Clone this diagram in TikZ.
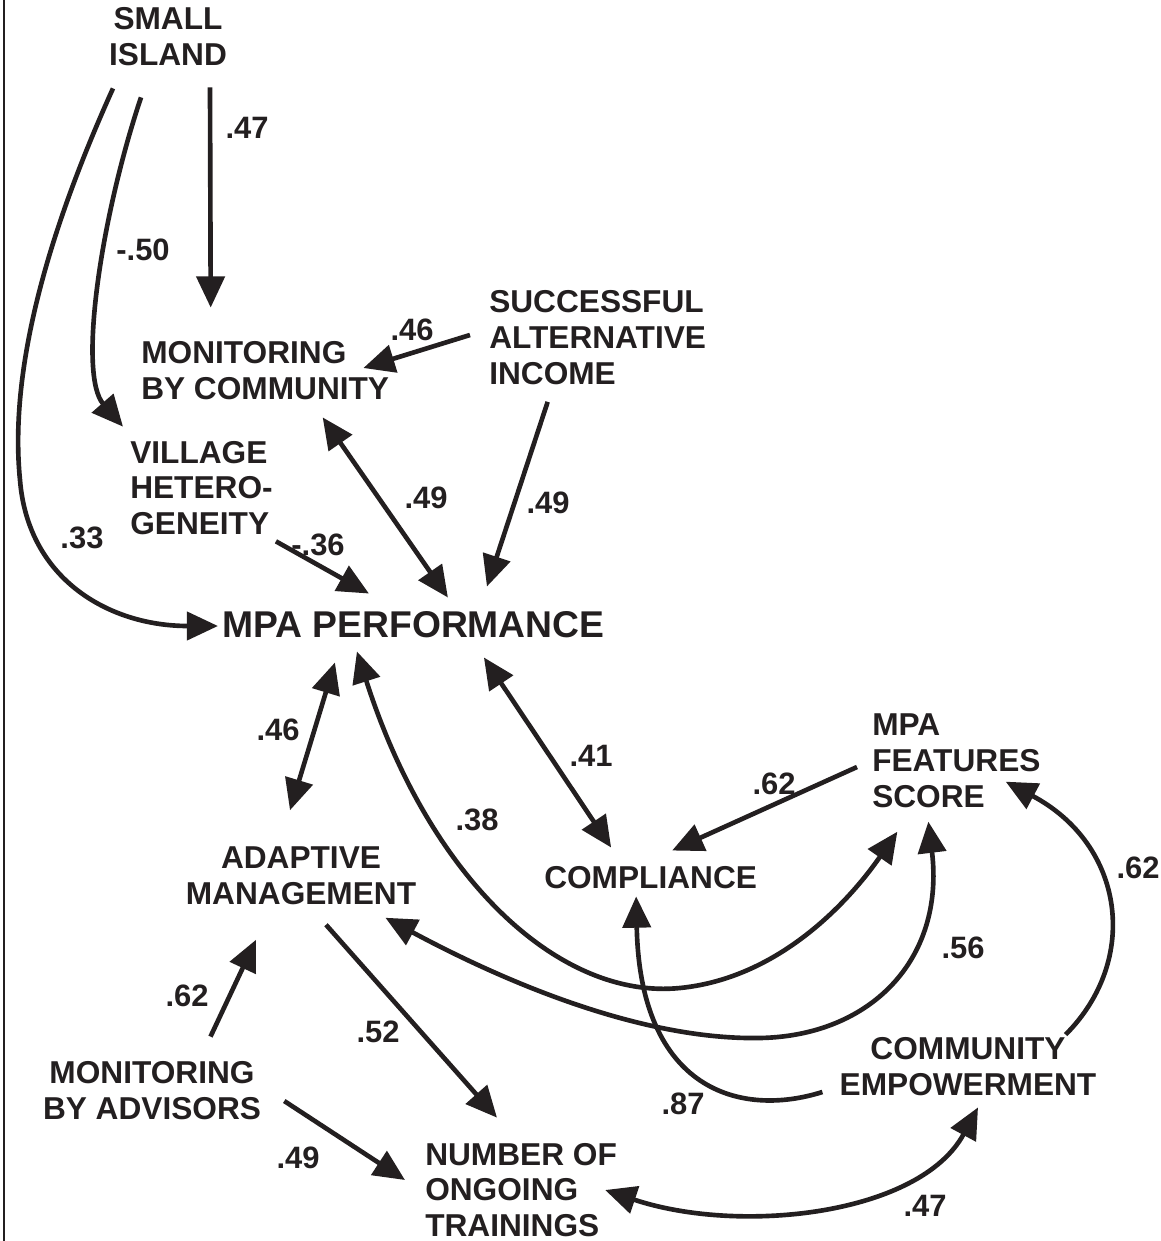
\documentclass[tikz,border=0pt]{standalone}
\usepackage{fontspec}
\setmainfont{Liberation Sans}
\usetikzlibrary{arrows.meta,calc}
\definecolor{ink}{RGB}{35,31,32}
\tikzset{
  var/.style={font=\bfseries\fontsize{22.5}{25.5}\selectfont, text=ink, inner sep=0pt},
  coef/.style={font=\bfseries\fontsize{22}{25}\selectfont, text=ink, inner sep=0pt},
  link/.style={draw=ink, line width=3.3pt, -{Triangle[length=0.78cm,width=0.7cm]}},
  twoway/.style={link, {Triangle[length=0.78cm,width=0.7cm]}-{Triangle[length=0.78cm,width=0.7cm]}}
}

\begin{document}
\begin{tikzpicture}[x=0.025cm, y=-0.025cm]
    \useasboundingbox (0,0) rectangle (1161,1241);
    \draw [ink, line width=1.5pt] (4,0) -- (4,1241);

    % Variables
    \node[var, align=center] (island) at (168,37) {SMALL\\ISLAND};
    \node[var, align=left, anchor=west] (moncom) at (141,371) {MONITORING\\BY COMMUNITY};
    \node[var, align=left, anchor=west] (vhet) at (130,488) {VILLAGE\\HETERO-\\GENEITY};
    \node[var, align=left, anchor=west] (altinc) at (489,337.5) {SUCCESSFUL\\ALTERNATIVE\\INCOME};
    \node[var, font=\bfseries\fontsize{26.5}{30}\selectfont, anchor=west] (perf) at (222,625) {MPA PERFORMANCE};
    \node[var, align=left, anchor=west] (feat) at (872,760.5) {MPA\\FEATURES\\SCORE};
    \node[var, anchor=west] (compl) at (544,878) {COMPLIANCE};
    \node[var, align=center] (adapt) at (301,875.5) {ADAPTIVE\\MANAGEMENT};
    \node[var, align=center] (monadv) at (152,1091) {MONITORING\\BY ADVISORS};
    \node[var, align=left, anchor=west] (train) at (425,1190) {NUMBER OF\\ONGOING\\TRAININGS};
    \node[var, align=center] (empow) at (968,1067) {COMMUNITY\\EMPOWERMENT};

    % Straight paths
    \draw[link] ($(island.south)+(42,21)$) -- ($(moncom.north)+(-54.5,-34)$);
    \draw[link] ($(altinc.west)+(-19,-2.5)$) -- ($(moncom.east)+(-26,-3)$);
    \draw[link] ($(altinc.south)+(-50,17)$) -- ($(perf.north)+(73.5,-25)$);
    \draw[twoway] ($(moncom.south)+(57.5,17)$) -- ($(perf.north)+(34.5,-14)$);
    \draw[link] ($(vhet.south east)+(3,6)$) -- ($(perf.north)+(-44.5,-18)$);
    \draw[twoway] ($(perf.south)+(-78.5,24)$) -- ($(adapt.north)+(-11,-36)$);
    \draw[twoway] ($(perf.south)+(70.5,19)$) -- ($(compl.north)+(-39.5,-19)$);
    \draw[link] ($(feat.west)+(-15,6.5)$) -- ($(compl.north)+(21.5,-16)$);
    \draw[link] ($(adapt.south)+(25,20)$) -- ($(train.north west)+(72,-25)$);
    \draw[link] ($(monadv.north)+(58.5,-25)$) -- ($(adapt.south)+(-45,35)$);
    \draw[link] ($(monadv.east)+(23,10)$) -- ($(train.west)+(-20,-10)$);

    % Curved paths
    \draw[link] ($(island.south)+(-27,31)$) .. controls (100,220) and (78,375) .. ($(vhet.north west)+(-7,-14)$);
    \draw[link] ($(island.south)+(-55,22)$) .. controls (40,250) and (10,380) .. (20,480)
        .. controls (28,580) and (110,626) .. ($(perf.west)+(-4,1)$);
    \draw[twoway] ($(perf.south)+(-56.5,13)$) .. controls (430,880) and (560,1000) .. (680,988)
        .. controls (780,978) and (850,900) .. ($(feat.south)+(-59,24)$);
    \draw[twoway] ($(adapt.south east)+(-31,13)$) .. controls (520,990) and (650,1040) .. (760,1038)
        .. controls (870,1036) and (945,960) .. ($(feat.south)+(-28,14)$);
    \draw[link] ($(empow.west)+(-17,25)$) .. controls (740,1118) and (640,1090) .. ($(compl.south)+(-14.5,7)$);
    \draw[link] ($(empow.north east)+(-31,-3)$) .. controls (1140,960) and (1125,845) .. ($(feat.south east)+(-35,-26)$);
    \draw[twoway] ($(train.east)+(-12,0)$) .. controls (740,1235) and (920,1215) .. ($(empow.south)+(10,11)$);

    % Path coefficients
    \foreach \x/\y/\v/\n in {247/128/.47/k1, 143/250/-.50/k2, 82/538/.33/k3, 412/330/.46/k4,
        426/498/.49/k5, 548/503/.49/k6, 318/545/-.36/k7, 278/730/.46/k8, 591/756/.41/k9,
        477/820/.38/k10, 774/784/.62/k11, 1138/868/.62/k12, 963/948/.56/k13, 187/996/.62/k14,
        378/1032/.52/k15, 683/1104/.87/k16, 298/1158/.49/k17, 925/1206/.47/k18}
        \node[coef] (\n) at (\x,\y) {\v};
\end{tikzpicture}
\end{document}
